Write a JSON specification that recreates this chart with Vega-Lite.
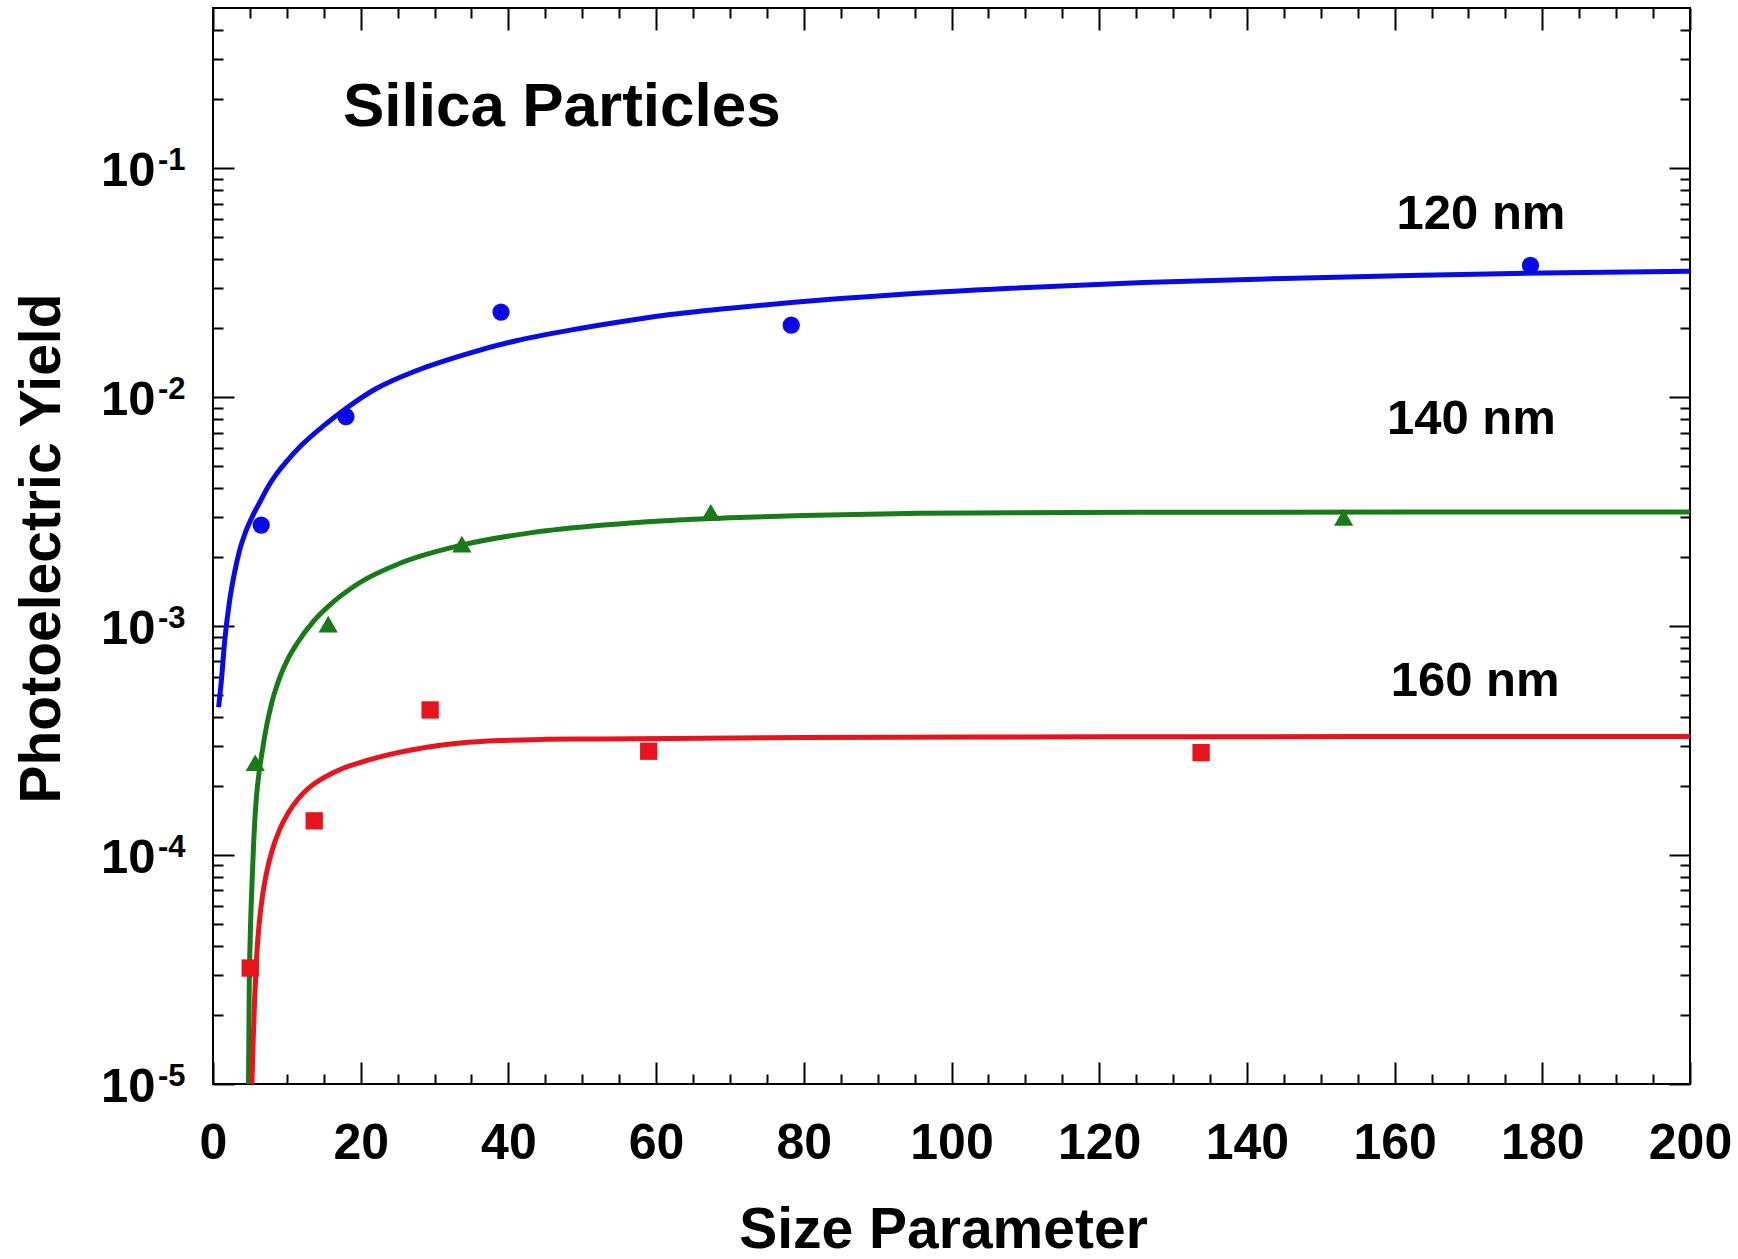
{
  "$schema": "https://vega.github.io/schema/vega-lite/v6.json",
  "width": 1477,
  "height": 1076,
  "autosize": {"type": "none"},
  "padding": {"left": 213, "top": 8, "right": 48, "bottom": 175},
  "background": "white",
  "config": {
    "view": {"stroke": "#000", "strokeWidth": 2},
    "axis": {
      "grid": false,
      "domain": false,
      "labelFont": "Liberation Sans",
      "titleFont": "Liberation Sans",
      "labelFontWeight": "bold",
      "titleFontWeight": "bold",
      "labelColor": "#000",
      "titleColor": "#000",
      "tickColor": "#000",
      "tickWidth": 2,
      "labelOverlap": false,
      "labelFlush": false,
      "labelBound": false
    }
  },
  "datasets": {
    "curves": [
      {"series": "120 nm", "x": 0.76, "y": 0.000442},
      {"series": "120 nm", "x": 1.1, "y": 0.000562},
      {"series": "120 nm", "x": 1.6, "y": 0.000871},
      {"series": "120 nm", "x": 2.2, "y": 0.00126},
      {"series": "120 nm", "x": 2.9, "y": 0.0017},
      {"series": "120 nm", "x": 3.6, "y": 0.00214},
      {"series": "120 nm", "x": 4.4, "y": 0.00257},
      {"series": "120 nm", "x": 5.5, "y": 0.00309},
      {"series": "120 nm", "x": 6.5, "y": 0.00355},
      {"series": "120 nm", "x": 7.3, "y": 0.00398},
      {"series": "120 nm", "x": 8.5, "y": 0.00457},
      {"series": "120 nm", "x": 10, "y": 0.00525},
      {"series": "120 nm", "x": 12, "y": 0.00617},
      {"series": "120 nm", "x": 15, "y": 0.0075},
      {"series": "120 nm", "x": 18, "y": 0.00891},
      {"series": "120 nm", "x": 22, "y": 0.01084},
      {"series": "120 nm", "x": 27.6, "y": 0.01306},
      {"series": "120 nm", "x": 34.4, "y": 0.01545},
      {"series": "120 nm", "x": 41.2, "y": 0.01766},
      {"series": "120 nm", "x": 48, "y": 0.0195},
      {"series": "120 nm", "x": 55, "y": 0.02128},
      {"series": "120 nm", "x": 61.2, "y": 0.02275},
      {"series": "120 nm", "x": 70, "y": 0.02443},
      {"series": "120 nm", "x": 78.3, "y": 0.02588},
      {"series": "120 nm", "x": 92.4, "y": 0.028},
      {"series": "120 nm", "x": 108, "y": 0.02985},
      {"series": "120 nm", "x": 126, "y": 0.03162},
      {"series": "120 nm", "x": 145, "y": 0.03296},
      {"series": "120 nm", "x": 162, "y": 0.03396},
      {"series": "120 nm", "x": 180, "y": 0.03483},
      {"series": "120 nm", "x": 200, "y": 0.0354},
      {"series": "140 nm", "x": 4.81, "y": 0.00001},
      {"series": "140 nm", "x": 4.9, "y": 0.0000251},
      {"series": "140 nm", "x": 5.05, "y": 0.0000447},
      {"series": "140 nm", "x": 5.25, "y": 0.0000708},
      {"series": "140 nm", "x": 5.5, "y": 0.000112},
      {"series": "140 nm", "x": 5.8, "y": 0.000166},
      {"series": "140 nm", "x": 6.2, "y": 0.000224},
      {"series": "140 nm", "x": 6.7, "y": 0.000288},
      {"series": "140 nm", "x": 7.3, "y": 0.000372},
      {"series": "140 nm", "x": 8.0, "y": 0.000468},
      {"series": "140 nm", "x": 9.1, "y": 0.000603},
      {"series": "140 nm", "x": 10.2, "y": 0.000724},
      {"series": "140 nm", "x": 11.4, "y": 0.000841},
      {"series": "140 nm", "x": 13.6, "y": 0.001047},
      {"series": "140 nm", "x": 16.3, "y": 0.001274},
      {"series": "140 nm", "x": 19.9, "y": 0.001549},
      {"series": "140 nm", "x": 25.4, "y": 0.001884},
      {"series": "140 nm", "x": 33.5, "y": 0.002249},
      {"series": "140 nm", "x": 43.4, "y": 0.002564},
      {"series": "140 nm", "x": 52.5, "y": 0.002754},
      {"series": "140 nm", "x": 61.2, "y": 0.002884},
      {"series": "140 nm", "x": 70, "y": 0.002972},
      {"series": "140 nm", "x": 80, "y": 0.003041},
      {"series": "140 nm", "x": 95.7, "y": 0.003105},
      {"series": "140 nm", "x": 126, "y": 0.003141},
      {"series": "140 nm", "x": 200, "y": 0.003148},
      {"series": "160 nm", "x": 5.27, "y": 0.00001},
      {"series": "160 nm", "x": 5.45, "y": 0.0000158},
      {"series": "160 nm", "x": 5.65, "y": 0.000024},
      {"series": "160 nm", "x": 5.9, "y": 0.0000355},
      {"series": "160 nm", "x": 6.25, "y": 0.0000501},
      {"series": "160 nm", "x": 6.7, "y": 0.0000661},
      {"series": "160 nm", "x": 7.3, "y": 0.0000851},
      {"series": "160 nm", "x": 8.0, "y": 0.0001047},
      {"series": "160 nm", "x": 9.0, "y": 0.0001288},
      {"series": "160 nm", "x": 10.2, "y": 0.0001531},
      {"series": "160 nm", "x": 11.4, "y": 0.0001738},
      {"series": "160 nm", "x": 12.7, "y": 0.0001928},
      {"series": "160 nm", "x": 14.1, "y": 0.0002089},
      {"series": "160 nm", "x": 16, "y": 0.0002265},
      {"series": "160 nm", "x": 17.7, "y": 0.0002399},
      {"series": "160 nm", "x": 20, "y": 0.0002541},
      {"series": "160 nm", "x": 22.2, "y": 0.0002661},
      {"series": "160 nm", "x": 25, "y": 0.0002799},
      {"series": "160 nm", "x": 27.6, "y": 0.0002904},
      {"series": "160 nm", "x": 30.5, "y": 0.0003006},
      {"series": "160 nm", "x": 33.5, "y": 0.0003083},
      {"series": "160 nm", "x": 38.9, "y": 0.0003162},
      {"series": "160 nm", "x": 45, "y": 0.0003199},
      {"series": "160 nm", "x": 52.5, "y": 0.0003214},
      {"series": "160 nm", "x": 80, "y": 0.0003258},
      {"series": "160 nm", "x": 120, "y": 0.0003281},
      {"series": "160 nm", "x": 200, "y": 0.0003296}
    ],
    "points": [
      {"series": "120 nm", "x": 6.53, "y": 0.00276},
      {"series": "120 nm", "x": 18.0, "y": 0.00822},
      {"series": "120 nm", "x": 39.0, "y": 0.0235},
      {"series": "120 nm", "x": 78.3, "y": 0.0206},
      {"series": "120 nm", "x": 178.4, "y": 0.0376},
      {"series": "140 nm", "x": 5.72, "y": 0.000253},
      {"series": "140 nm", "x": 15.6, "y": 0.00102},
      {"series": "140 nm", "x": 33.7, "y": 0.00228},
      {"series": "140 nm", "x": 67.4, "y": 0.00314},
      {"series": "140 nm", "x": 153.1, "y": 0.00298},
      {"series": "160 nm", "x": 5.04, "y": 0.0000321},
      {"series": "160 nm", "x": 13.7, "y": 0.000141},
      {"series": "160 nm", "x": 29.4, "y": 0.00043},
      {"series": "160 nm", "x": 59.0, "y": 0.000284},
      {"series": "160 nm", "x": 133.8, "y": 0.00028}
    ],
    "labels": [
      {"text": "120 nm", "x": 171.7, "y": 0.0542},
      {"text": "140 nm", "x": 170.4, "y": 0.0069},
      {"text": "160 nm", "x": 170.9, "y": 0.000494}
    ],
    "heading": [
      {"text": "Silica Particles", "x": 17.6, "y": 0.153}
    ]
  },
  "resolve": {"axis": {"x": "independent", "y": "independent"}},
  "layer": [
    {
      "data": {"name": "curves"},
      "transform": [{"filter": "datum.series == '120 nm'"}],
      "mark": {"type": "line", "color": "#0a0ae6", "strokeWidth": 5, "interpolate": "monotone", "clip": true},
      "encoding": {
        "x": {"field": "x", "type": "quantitative", "scale": {"domain": [0, 200], "nice": false, "zero": false},
          "axis": {"orient": "bottom", "values": [0, 20, 40, 60, 80, 100, 120, 140, 160, 180, 200], "ticks": false, "tickSize": 0,
            "labelPadding": 34, "labelFontSize": 50, "labelBaseline": "top", "labelAlign": "center",
            "title": "Size Parameter", "titleFontSize": 57, "titleX": 730, "titleY": 163, "titleAlign": "center", "titleBaseline": "alphabetic"}},
        "y": {"field": "y", "type": "quantitative", "scale": {"type": "log", "domain": [0.00001, 0.5], "nice": false},
          "axis": {"orient": "left", "values": [0.00001, 0.0001, 0.001, 0.01, 0.1], "ticks": false, "tickSize": 0,
            "labelExpr": "'10'", "labelFontSize": 49, "labelPadding": 58, "labelAlign": "right", "labelBaseline": "alphabetic", "labelOffset": 17,
            "title": "Photoelectric Yield", "titleFontSize": 57, "titleAngle": -90, "titleX": -154, "titleY": 540, "titleAlign": "center", "titleBaseline": "alphabetic"}}
      }
    },
    {
      "data": {"name": "curves"},
      "transform": [{"filter": "datum.series == '140 nm'"}],
      "mark": {"type": "line", "color": "#197a19", "strokeWidth": 5, "interpolate": "monotone", "clip": true},
      "encoding": {
        "x": {"field": "x", "type": "quantitative", "scale": {"domain": [0, 200], "nice": false, "zero": false},
          "axis": {"orient": "bottom", "values": [0, 20, 40, 60, 80, 100, 120, 140, 160, 180, 200], "labels": false, "tickSize": -22, "title": null}},
        "y": {"field": "y", "type": "quantitative", "scale": {"type": "log", "domain": [0.00001, 0.5], "nice": false},
          "axis": {"orient": "left", "values": [0.00001, 0.0001, 0.001, 0.01, 0.1], "ticks": false, "tickSize": 0,
            "labelExpr": "datum.value < 0.00005 ? '-5' : datum.value < 0.0005 ? '-4' : datum.value < 0.005 ? '-3' : datum.value < 0.05 ? '-2' : '-1'",
            "labelFontSize": 31, "labelPadding": 28, "labelAlign": "right", "labelBaseline": "alphabetic", "labelOffset": 1, "title": null}}
      }
    },
    {
      "data": {"name": "curves"},
      "transform": [{"filter": "datum.series == '160 nm'"}],
      "mark": {"type": "line", "color": "#e8141c", "strokeWidth": 5, "interpolate": "monotone", "clip": true},
      "encoding": {
        "x": {"field": "x", "type": "quantitative", "scale": {"domain": [0, 200], "nice": false, "zero": false},
          "axis": {"orient": "bottom", "values": [5, 10, 15, 25, 30, 35, 45, 50, 55, 65, 70, 75, 85, 90, 95, 105, 110, 115, 125, 130, 135, 145, 150, 155, 165, 170, 175, 185, 190, 195], "labels": false, "tickSize": -10, "title": null}},
        "y": {"field": "y", "type": "quantitative", "scale": {"type": "log", "domain": [0.00001, 0.5], "nice": false},
          "axis": {"orient": "left", "values": [0.00001, 0.0001, 0.001, 0.01, 0.1], "labels": false, "tickSize": -21, "title": null}}
      }
    },
    {
      "data": {"name": "points"},
      "transform": [{"filter": "datum.series == '120 nm'"}],
      "mark": {"type": "point", "shape": "circle", "filled": true, "size": 300, "color": "#0a0ae6", "opacity": 1},
      "encoding": {
        "x": {"field": "x", "type": "quantitative", "scale": {"domain": [0, 200], "nice": false, "zero": false},
          "axis": {"orient": "top", "values": [0, 20, 40, 60, 80, 100, 120, 140, 160, 180, 200], "labels": false, "tickSize": -22, "title": null}},
        "y": {"field": "y", "type": "quantitative", "scale": {"type": "log", "domain": [0.00001, 0.5], "nice": false},
          "axis": {"orient": "left", "values": [0.00002, 0.00003, 0.00004, 0.00005, 0.00006, 0.00007, 0.00008, 0.00009, 0.0002, 0.0003, 0.0004, 0.0005, 0.0006, 0.0007, 0.0008, 0.0009, 0.002, 0.003, 0.004, 0.005, 0.006, 0.007, 0.008, 0.009, 0.02, 0.03, 0.04, 0.05, 0.06, 0.07, 0.08, 0.09, 0.2, 0.3, 0.4], "labels": false, "tickSize": -10, "title": null}}
      }
    },
    {
      "data": {"name": "points"},
      "transform": [{"filter": "datum.series == '140 nm'"}],
      "mark": {"type": "point", "shape": "triangle-up", "filled": true, "size": 370, "color": "#197a19", "opacity": 1},
      "encoding": {
        "x": {"field": "x", "type": "quantitative", "scale": {"domain": [0, 200], "nice": false, "zero": false},
          "axis": {"orient": "top", "values": [5, 10, 15, 25, 30, 35, 45, 50, 55, 65, 70, 75, 85, 90, 95, 105, 110, 115, 125, 130, 135, 145, 150, 155, 165, 170, 175, 185, 190, 195], "labels": false, "tickSize": -10, "title": null}},
        "y": {"field": "y", "type": "quantitative", "scale": {"type": "log", "domain": [0.00001, 0.5], "nice": false},
          "axis": {"orient": "right", "values": [0.00001, 0.0001, 0.001, 0.01, 0.1], "labels": false, "tickSize": -21, "title": null}}
      }
    },
    {
      "data": {"name": "points"},
      "transform": [{"filter": "datum.series == '160 nm'"}],
      "mark": {"type": "point", "shape": "square", "filled": true, "size": 300, "color": "#e8141c", "opacity": 1},
      "encoding": {
        "x": {"field": "x", "type": "quantitative", "scale": {"domain": [0, 200], "nice": false, "zero": false}, "axis": null},
        "y": {"field": "y", "type": "quantitative", "scale": {"type": "log", "domain": [0.00001, 0.5], "nice": false},
          "axis": {"orient": "right", "values": [0.00002, 0.00003, 0.00004, 0.00005, 0.00006, 0.00007, 0.00008, 0.00009, 0.0002, 0.0003, 0.0004, 0.0005, 0.0006, 0.0007, 0.0008, 0.0009, 0.002, 0.003, 0.004, 0.005, 0.006, 0.007, 0.008, 0.009, 0.02, 0.03, 0.04, 0.05, 0.06, 0.07, 0.08, 0.09, 0.2, 0.3, 0.4], "labels": false, "tickSize": -10, "title": null}}
      }
    },
    {
      "data": {"name": "labels"},
      "mark": {"type": "text", "font": "Liberation Sans", "fontWeight": "bold", "fontSize": 49, "color": "#000", "align": "center", "baseline": "alphabetic"},
      "encoding": {
        "x": {"field": "x", "type": "quantitative", "scale": {"domain": [0, 200], "nice": false, "zero": false}, "axis": null},
        "y": {"field": "y", "type": "quantitative", "scale": {"type": "log", "domain": [0.00001, 0.5], "nice": false}, "axis": null},
        "text": {"field": "text", "type": "nominal"}
      }
    },
    {
      "data": {"name": "heading"},
      "mark": {"type": "text", "font": "Liberation Sans", "fontWeight": "bold", "fontSize": 62, "color": "#000", "align": "left", "baseline": "alphabetic"},
      "encoding": {
        "x": {"field": "x", "type": "quantitative", "scale": {"domain": [0, 200], "nice": false, "zero": false}, "axis": null},
        "y": {"field": "y", "type": "quantitative", "scale": {"type": "log", "domain": [0.00001, 0.5], "nice": false}, "axis": null},
        "text": {"field": "text", "type": "nominal"}
      }
    }
  ]
}
